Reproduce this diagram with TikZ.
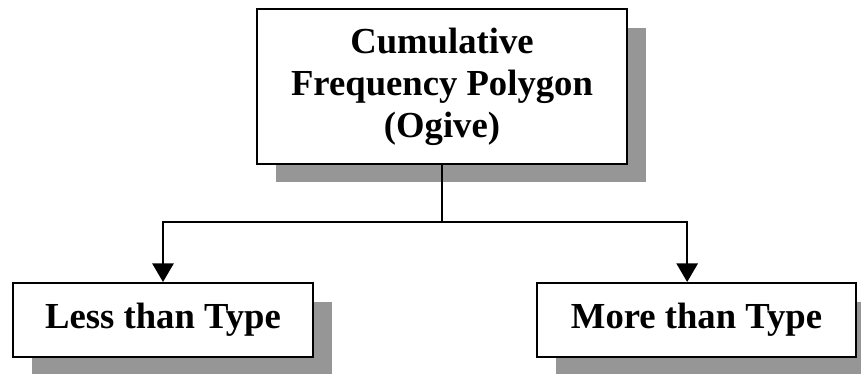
\documentclass[tikz,border=0pt]{standalone}
\usepackage{fontspec}
\setmainfont{Liberation Serif}
\usetikzlibrary{arrows.meta,shadows}
\definecolor{shadowgray}{RGB}{150,150,150}
\tikzset{
  box/.style={draw=black, line width=1.5pt, fill=white, inner sep=0pt,
    align=center, font=\bfseries\fontsize{27.5}{31.5}\selectfont,
    general shadow={fill=shadowgray, shadow xshift=14pt, shadow yshift=-14pt}},
  link/.style={line width=1.5pt, draw=black},
  tip/.style={link, -{Triangle[width=16pt,length=14pt]}}
}
\begin{document}
\begin{tikzpicture}[x=0.75pt, y=-0.75pt]
  \useasboundingbox (0,0) rectangle (861,374);
  \node[box, minimum width=277.5pt, minimum height=116pt] (top) at (442,86.5)
    {Cumulative\\Frequency Polygon\\(Ogive)};
  \node[box, minimum width=225pt, minimum height=55.5pt] (less) at (163,320)
    {Less than Type};
  \node[box, minimum width=239pt, minimum height=55.5pt] (more) at (696.5,320)
    {More than Type};
  \coordinate (fork) at (442,222);
  \draw[link] (top.south) -- (fork);
  \draw[tip] (fork) -| (less.north);
  \draw[tip] (fork) -| ([xshift=-7pt]more.north);
\end{tikzpicture}
\end{document}
